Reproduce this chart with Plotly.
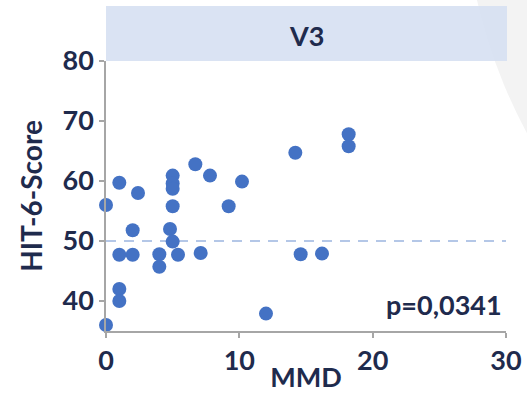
import plotly.graph_objects as go

# Data
mmd = [0, 0, 1, 1, 1, 1, 2, 2, 2.4, 4, 4, 4.8, 5, 5, 5, 5, 5, 5.4,
       6.7, 7.1, 7.8, 9.2, 10.2, 12, 14.2, 14.6, 16.2, 18.2, 18.2]
hit6 = [56, 36, 59.7, 47.7, 42, 40, 51.8, 47.7, 58, 47.8, 45.7, 52, 60.9, 59.6, 58.7, 55.8, 49.9, 47.7,
        62.8, 48, 60.9, 55.8, 59.9, 37.9, 64.7, 47.8, 47.9, 67.8, 65.8]
x_ticks = [0, 10, 20, 30]
y_ticks = [40, 50, 60, 70, 80]
ref_line = 50
panel_title = "V3"
p_text = "p=0,0341"

NAVY = "#1f2b4d"
FONT = "Lato"

fig = go.Figure()
# dashed reference line
fig.add_trace(go.Scatter(
    x=[x_ticks[0], x_ticks[-1]], y=[ref_line, ref_line], mode="lines",
    line=dict(color="#b4c7e7", width=2, dash="10px,8px"),
    showlegend=False, hoverinfo="skip",
))
fig.add_trace(go.Scatter(
    x=mmd, y=hit6, mode="markers",
    marker=dict(color="#4472c4", size=14, line=dict(width=0)),
    cliponaxis=False, showlegend=False,
))

axis_common = dict(
    showgrid=False, zeroline=False, showline=True, linecolor="#a6a6a6", linewidth=1.5,
    ticks="outside", ticklen=5, tickcolor="#a6a6a6", tickwidth=1.5, automargin=False,
    tickfont=dict(family=FONT, size=27, color=NAVY, weight="bold"),
)
fig.update_xaxes(range=[0, 30], tickvals=x_ticks, **axis_common,
                 title=dict(text="MMD", font=dict(family=FONT, size=27, color=NAVY, weight="bold"), standoff=0))
fig.update_yaxes(range=[35, 80], tickvals=y_ticks, **axis_common,
                 title=dict(text="HIT-6-Score", font=dict(family=FONT, size=28, color=NAVY, weight="bold"), standoff=12))

shapes = [
    # faint decorative arc in the background
    dict(type="circle", xref="paper", yref="paper", x0=0.895, x1=3.505, y0=-0.28, y1=3.587,
         fillcolor="#f3f3f3", line=dict(width=0), layer="below"),
    # panel header
    dict(type="rect", xref="paper", yref="paper", x0=0, x1=1.0025, y0=1.0, y1=1.2037,
         fillcolor="rgba(214,224,242,0.9)", line=dict(width=0), layer="below"),
]
annotations = [
    dict(text=panel_title, xref="paper", yref="paper", x=0.5, y=1.095, showarrow=False,
         font=dict(family=FONT, size=27, color=NAVY, weight="bold"), xanchor="center", yanchor="middle"),
    dict(text=p_text, xref="paper", yref="paper", x=0.995, y=0.10, showarrow=False,
         font=dict(family=FONT, size=27, color=NAVY, weight="bold"), xanchor="right", yanchor="middle"),
]

fig.update_layout(
    width=527, height=393,
    margin=dict(l=106, r=21, t=61, b=62, autoexpand=False),
    paper_bgcolor="white", plot_bgcolor="rgba(0,0,0,0)",
    shapes=shapes, annotations=annotations,
)
fig.write_html("out.html", config={"displayModeBar": False},
               post_script="document.body.style.margin='0';document.body.style.overflow='hidden';")
